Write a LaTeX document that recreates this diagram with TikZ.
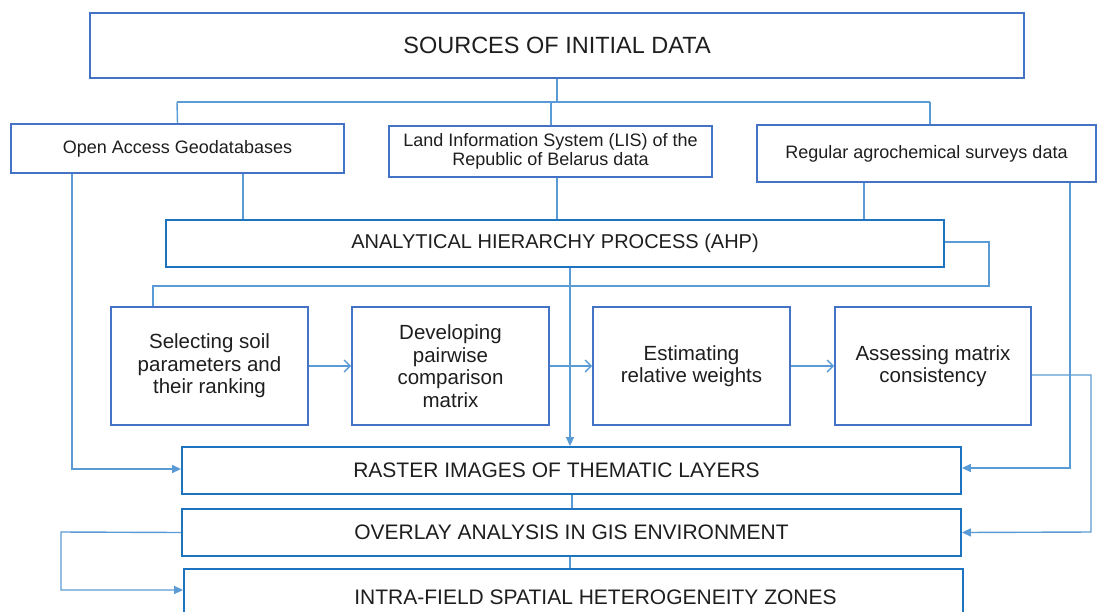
\documentclass[tikz,border=0pt]{standalone}
\usepackage{fontspec}
\setmainfont{Liberation Sans}
\usetikzlibrary{arrows.meta}
\definecolor{boxA}{RGB}{68,114,196}
\definecolor{boxB}{RGB}{30,115,190}
\definecolor{lineC}{RGB}{91,155,213}
\definecolor{txt}{RGB}{30,30,30}
\tikzset{
  bx/.style={draw=boxA, line width=1.8pt, inner sep=0pt, text=txt, align=center},
  bxb/.style={draw=boxB, line width=1.8pt, inner sep=0pt, text=txt},
  conn/.style={draw=lineC, line width=1.4pt},
  tip/.style={-{Triangle[length=9pt,width=8pt]}},
  barb/.style={-{Straight Barb[length=6pt,width=12pt,line width=1.4pt]}},
  srcfont/.style={font=\fontsize{23.5}{28}\selectfont},
  smallfont/.style={font=\fontsize{18}{19.5}\selectfont},
  ahpfont/.style={font=\fontsize{20}{24}\selectfont},
  procfont/.style={font=\fontsize{20.5}{22.5}\selectfont},
  botfont/.style={font=\fontsize{21}{24}\selectfont},
}
\begin{document}
\begin{tikzpicture}[x=1pt,y=-1pt]
\useasboundingbox (0,0) rectangle (1097,611);
% boxes
\node[bx, minimum width=934pt, minimum height=65pt, srcfont] (src) at (557,45.5) {SOURCES OF INITIAL DATA};
\node[bx, minimum width=333pt, minimum height=49pt, smallfont] (oag) at (177.5,148.5) {Open Access Geodatabases};
\node[bx, minimum width=323pt, minimum height=51pt, smallfont] (lis) at (550.5,151.5) {Land Information System (LIS) of the\\Republic of Belarus data};
\node[bx, minimum width=339pt, minimum height=57pt, smallfont] (reg) at (926.5,153.5) {Regular agrochemical surveys data};
\node[bxb, minimum width=778pt, minimum height=47pt, ahpfont] (ahp) at (555,243.5) {ANALYTICAL HIERARCHY PROCESS (AHP)};
\node[bx, minimum width=197pt, minimum height=118pt, procfont] (sel) at (209.5,366) {Selecting soil\\parameters and\\their ranking};
\node[bx, minimum width=197pt, minimum height=118pt, procfont] (dev) at (450.5,366) {Developing\\pairwise\\comparison\\matrix};
\node[bx, minimum width=197pt, minimum height=118pt, procfont] (est) at (691.5,366) {Estimating\\relative weights};
\node[bx, minimum width=196pt, minimum height=118pt, procfont] (ass) at (933,366) {Assessing matrix\\consistency};
\node[bxb, minimum width=779pt, minimum height=47pt, botfont] (ras) at (571.5,470.5) {RASTER IMAGES OF THEMATIC LAYERS\rule{30pt}{0pt}};
\node[bxb, minimum width=779pt, minimum height=47pt, botfont] (ovl) at (571.5,532.5) {OVERLAY ANALYSIS IN GIS ENVIRONMENT};
\node[bxb, minimum width=779pt, minimum height=56pt, botfont, text depth=0pt] (ifz) at (573.5,597) {\rule{44pt}{0pt}INTRA-FIELD SPATIAL HETEROGENEITY ZONES};
% top distribution
\coordinate (tbus) at (557,102);
\draw[conn] (src.south) -- (tbus);
\draw[conn] (177,102) -- (930,102);
\draw[conn] (177,102) -- (oag.north);
\draw[conn] (551,102) -- (lis.north -| 551,0);
\draw[conn] (930,102) -- (reg.north -| 930,0);
% sources to AHP
\draw[conn] (oag.south -| 243,0) -- (ahp.north -| 243,0);
\draw[conn] (lis.south -| 557,0) -- (ahp.north -| 557,0);
\draw[conn] (reg.south -| 864,0) -- (ahp.north -| 864,0);
% sources to raster
\draw[conn, tip] (oag.south -| 72,0) -- (72,469) -- (ras.west |- 0,469);
\draw[conn, tip] (reg.south -| 1070,0) -- (1070,468) -- (ras.east |- 0,468);
% AHP loop to selecting
\draw[conn] (ahp.east |- 0,242) -- (989,242) -- (989,286) -- (153,286) -- (sel.north -| 153,0);
% AHP down to raster
\draw[conn, tip] (ahp.south -| 570,0) -- (ras.north -| 570,0);
% process chain
\draw[conn, barb] (sel.east) -- (dev.west);
\draw[conn, barb] (dev.east) -- (est.west);
\draw[conn, barb] (est.east) -- (ass.west);
% assessing to overlay
\draw[conn, tip] (ass.east |- 0,375) -- (1091,375) -- (1091,532) -- (ovl.east);
% raster to overlay to zones
\draw[conn] (ras.south -| 572,0) -- (ovl.north -| 572,0);
\draw[conn] (ovl.south -| 570,0) -- (ifz.north -| 570,0);
\draw[conn, tip] (ovl.west) -- (61,532) -- (61,590) -- (ifz.west |- 0,590);
\end{tikzpicture}
\end{document}
